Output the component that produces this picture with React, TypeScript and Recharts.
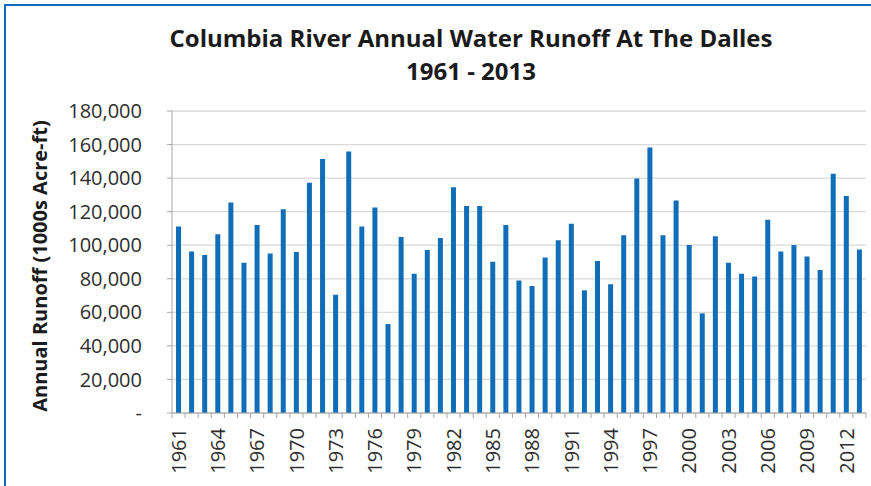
import React from "react";
import { BarChart, Bar, XAxis, YAxis, CartesianGrid } from "recharts";

const years: string[] = [
  "1961", "1962", "1963", "1964", "1965", "1966", "1967", "1968", "1969", "1970",
  "1971", "1972", "1973", "1974", "1975", "1976", "1977", "1978", "1979", "1980",
  "1981", "1982", "1983", "1984", "1985", "1986", "1987", "1988", "1989", "1990",
  "1991", "1992", "1993", "1994", "1995", "1996", "1997", "1998", "1999", "2000",
  "2001", "2002", "2003", "2004", "2005", "2006", "2007", "2008", "2009", "2010",
  "2011", "2012", "2013",
];

const runoff: number[] = [
  111200, 96300, 94200, 106500, 125500, 89600, 112100, 95000, 121400, 96000,
  137300, 151400, 70500, 155900, 111200, 122500, 53000, 104900, 83000, 97100,
  104300, 134500, 123400, 123400, 90200, 112100, 78900, 75700, 92700, 102900,
  112800, 73100, 90600, 76700, 105900, 139800, 158300, 105900, 126700, 100100,
  59400, 105300, 89600, 83000, 81400, 115200, 96300, 100100, 93300, 85200,
  142600, 129300, 97500,
];

const yTicks: number[] = [0, 20000, 40000, 60000, 80000, 100000, 120000, 140000, 160000, 180000];

const titleLine1 = "Columbia River Annual Water Runoff At The Dalles";
const titleLine2 = "1961 - 2013";
const yLabel = "Annual Runoff (1000s Acre-ft)";

const data = years.map((y, i) => ({ year: y, runoff: runoff[i] }));

const W = 871;
const H = 486;
const M = { top: 111, right: 5, bottom: 0, left: 0 };
const Y_AXIS_W = 172;
const X_AXIS_H = 73;
const AXIS_Y = H - M.bottom - X_AXIS_H;
const BAND = (W - M.left - M.right - Y_AXIS_W) / years.length;
const FONT = "'Open Sans', 'DejaVu Sans', sans-serif";
const TEXT_COLOR = "#2e2e2e";
const AXIS_COLOR = "#a6a6a6";

const fmt = (v: number) => (v === 0 ? "-" : v.toLocaleString("en-US"));

const XTick = (props: any) => {
  const { x, payload, index } = props;
  const left = x - BAND / 2;
  const isLast = index === years.length - 1;
  const ty = AXIS_Y + 15;
  return (
    <g>
      <line x1={left} y1={AXIS_Y} x2={left} y2={AXIS_Y + 5} stroke={AXIS_COLOR} />
      {isLast && (
        <line x1={x + BAND / 2} y1={AXIS_Y} x2={x + BAND / 2} y2={AXIS_Y + 5} stroke={AXIS_COLOR} />
      )}
      {index % 3 === 0 && (
        <text
          x={x}
          y={ty}
          transform={`rotate(-90, ${x}, ${ty})`}
          textAnchor="end"
          dy="0.36em"
          fill={TEXT_COLOR}
          fontSize={20}
          fontFamily={FONT}
        >
          {payload.value}
        </text>
      )}
    </g>
  );
};

export default function App() {
  return (
    <div style={{ position: "absolute", left: 0, top: 0, width: W, height: H, background: "#fff", overflow: "hidden" }}>
      <div
        style={{
          position: "absolute",
          left: 4,
          top: 4,
          width: W,
          height: H,
          borderTop: "2px solid #0F6CC0",
          borderLeft: "2px solid #0F6CC0",
          boxSizing: "border-box",
        }}
      />
      <BarChart width={W} height={H} data={data} margin={M} barCategoryGap={0}>
        <CartesianGrid vertical={false} stroke="#d9d9d9" strokeWidth={1.3} />
        <XAxis
          dataKey="year"
          interval={0}
          height={X_AXIS_H}
          tickLine={false}
          axisLine={{ stroke: AXIS_COLOR }}
          tick={<XTick />}
        />
        <YAxis
          width={Y_AXIS_W}
          domain={[0, 180000]}
          ticks={yTicks}
          interval={0}
          tickFormatter={fmt}
          tickSize={5}
          tickMargin={25}
          tickLine={{ stroke: AXIS_COLOR }}
          axisLine={{ stroke: AXIS_COLOR }}
          tick={{ fill: TEXT_COLOR, fontSize: 20, fontFamily: FONT }}
        />
        <Bar dataKey="runoff" fill="#106EB9" barSize={5} isAnimationActive={false} />
      </BarChart>
      <svg width={W} height={H} style={{ position: "absolute", left: 0, top: 0, pointerEvents: "none" }}>
        <text x={471} y={47} textAnchor="middle" fontFamily={FONT} fontWeight="bold" fontSize={24} fill="#1a1a1a">
          {titleLine1}
        </text>
        <text x={471} y={80} textAnchor="middle" fontFamily={FONT} fontWeight="bold" fontSize={24} fill="#1a1a1a">
          {titleLine2}
        </text>
        <text
          x={40}
          y={266}
          transform="rotate(-90, 40, 266)"
          textAnchor="middle"
          dy="0.36em"
          fontFamily={FONT}
          fontWeight="bold"
          fontSize={20}
          fill="#1a1a1a"
        >
          {yLabel}
        </text>
      </svg>
    </div>
  );
}
